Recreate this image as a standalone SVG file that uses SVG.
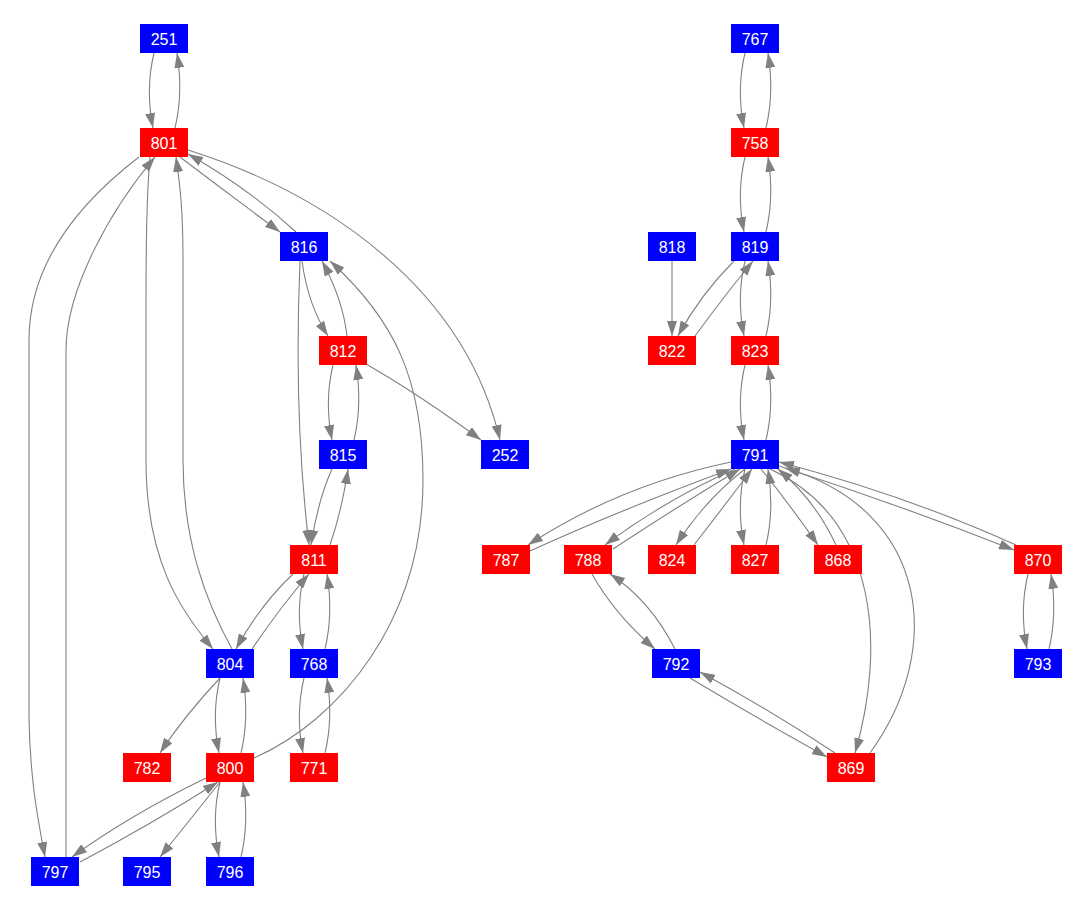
<svg xmlns="http://www.w3.org/2000/svg" width="1072" height="912" viewBox="0 0 1072 912">
<style>
.e{fill:none;stroke:#808080;stroke-width:1.1;marker-end:url(#a)}
.b{fill:#0000FF}
.r{fill:#FF0000}
text{font-family:"Liberation Sans",Arial,sans-serif;font-size:16px;fill:#FFFFFF;text-anchor:middle}
</style>
<defs>
<marker id="a" viewBox="0 0 15 10" refX="15" refY="5" markerWidth="15" markerHeight="10" markerUnits="userSpaceOnUse" orient="auto">
<path d="M0,0 L15,5 L0,10 z" fill="#808080"/>
</marker>
</defs>
<rect width="1072" height="912" fill="#FFFFFF"/>
<g id="edges">
<path class="e" d="M154,53 C148,78 148,103 153,128"/>
<path class="e" d="M175,128 C181,103 181,78 177,53"/>
<path class="e" d="M745,53 C739,78 739,103 744,128"/>
<path class="e" d="M766,128 C772,103 772,78 768,53"/>
<path class="e" d="M745,157 C739,182 739,207 744,232"/>
<path class="e" d="M766,232 C772,207 772,182 768,157"/>
<path class="e" d="M745,261 C739,286 739,311 744,336"/>
<path class="e" d="M766,336 C772,311 772,286 768,261"/>
<path class="e" d="M745,365 C739,390 739,415 744,440"/>
<path class="e" d="M766,440 C772,415 772,390 768,365"/>
<path class="e" d="M333,365 C327,390 327,415 332,440"/>
<path class="e" d="M354,440 C360,415 360,390 356,365"/>
<path class="e" d="M304,574 C298,599 298,624 303,649"/>
<path class="e" d="M325,649 C331,624 331,599 327,574"/>
<path class="e" d="M304,678 C298,703 298,728 303,753"/>
<path class="e" d="M325,753 C331,728 331,703 327,678"/>
<path class="e" d="M220,678 C214,703 214,728 219,753"/>
<path class="e" d="M241,753 C247,728 247,703 243,678"/>
<path class="e" d="M220,782 C214,807 214,832 219,857"/>
<path class="e" d="M241,857 C247,832 247,807 243,782"/>
<path class="e" d="M1028,574 C1022,599 1022,624 1027,649"/>
<path class="e" d="M1049,649 C1055,624 1055,599 1051,574"/>
<path class="e" d="M745,469 C739,494 739,520 744,545"/>
<path class="e" d="M766,545 C772,520 772,494 768,469"/>
<path class="e" d="M180,157 Q230,195 280,232"/>
<path class="e" d="M296,232 Q248,188 188,154"/>
<path class="e" d="M188,150 C330,195 465,290 500,440"/>
<path class="e" d="M302,261 Q308,305 328,336"/>
<path class="e" d="M347,336 Q343,300 322,261"/>
<path class="e" d="M254,758 C340,720 423,620 423,480 C423,380 395,320 330,261"/>
<path class="e" d="M300,261 C295,380 300,470 309,545"/>
<path class="e" d="M332,469 Q318,500 311,545"/>
<path class="e" d="M330,545 Q342,510 348,469"/>
<path class="e" d="M366,364 Q420,395 481,440"/>
<path class="e" d="M139,157 C70,210 29,270 29,340 L29,717 C30,780 38,820 45,857"/>
<path class="e" d="M66,857 L66,350 C66,290 110,210 155,157"/>
<path class="e" d="M150,157 C146,200 146,250 146,300 L146,460 C146,560 180,610 213,649"/>
<path class="e" d="M232,649 C205,600 183,540 183,460 L183,260 C183,210 180,185 176,157"/>
<path class="e" d="M293,574 Q260,605 236,649"/>
<path class="e" d="M252,649 Q282,605 309,574"/>
<path class="e" d="M220,678 Q185,715 160,753"/>
<path class="e" d="M206,778 Q130,815 72,857"/>
<path class="e" d="M80,862 Q150,825 218,782"/>
<path class="e" d="M220,782 Q190,820 160,857"/>
<path class="e" d="M672,261 L672,336"/>
<path class="e" d="M734,261 Q700,295 678,336"/>
<path class="e" d="M695,336 Q725,295 753,261"/>
<path class="e" d="M731,462 Q620,485 528,545"/>
<path class="e" d="M530,551 Q620,510 731,469"/>
<path class="e" d="M735,469 Q665,500 605,545"/>
<path class="e" d="M613,549 Q680,505 740,469"/>
<path class="e" d="M745,469 Q705,500 676,545"/>
<path class="e" d="M694,545 Q725,505 752,469"/>
<path class="e" d="M761,469 Q790,505 818,545"/>
<path class="e" d="M836,545 Q815,500 778,469"/>
<path class="e" d="M779,466 Q900,505 1014,550"/>
<path class="e" d="M1016,545 Q905,495 779,462"/>
<path class="e" d="M770,469 C880,520 885,650 855,753"/>
<path class="e" d="M870,753 C945,650 930,510 785,468"/>
<path class="e" d="M592,574 Q615,615 655,649"/>
<path class="e" d="M675,649 Q650,600 610,574"/>
<path class="e" d="M690,678 Q760,720 827,757"/>
<path class="e" d="M835,753 Q770,710 700,672"/>
</g>
<g id="n251"><rect class="b" x="140" y="24" width="48" height="29"/><text x="164" y="44.5">251</text></g>
<g id="n801"><rect class="r" x="140" y="128" width="48" height="29"/><text x="164" y="148.5">801</text></g>
<g id="n816"><rect class="b" x="280" y="232" width="48" height="29"/><text x="304" y="252.5">816</text></g>
<g id="n812"><rect class="r" x="319" y="336" width="48" height="29"/><text x="343" y="356.5">812</text></g>
<g id="n815"><rect class="b" x="319" y="440" width="48" height="29"/><text x="343" y="460.5">815</text></g>
<g id="n252"><rect class="b" x="481" y="440" width="48" height="29"/><text x="505" y="460.5">252</text></g>
<g id="n811"><rect class="r" x="290" y="545" width="48" height="29"/><text x="314" y="565.5">811</text></g>
<g id="n804"><rect class="b" x="206" y="649" width="48" height="29"/><text x="230" y="669.5">804</text></g>
<g id="n768"><rect class="b" x="290" y="649" width="48" height="29"/><text x="314" y="669.5">768</text></g>
<g id="n782"><rect class="r" x="123" y="753" width="48" height="29"/><text x="147" y="773.5">782</text></g>
<g id="n800"><rect class="r" x="206" y="753" width="48" height="29"/><text x="230" y="773.5">800</text></g>
<g id="n771"><rect class="r" x="290" y="753" width="48" height="29"/><text x="314" y="773.5">771</text></g>
<g id="n797"><rect class="b" x="31" y="857" width="48" height="29"/><text x="55" y="877.5">797</text></g>
<g id="n795"><rect class="b" x="123" y="857" width="48" height="29"/><text x="147" y="877.5">795</text></g>
<g id="n796"><rect class="b" x="206" y="857" width="48" height="29"/><text x="230" y="877.5">796</text></g>
<g id="n767"><rect class="b" x="731" y="24" width="48" height="29"/><text x="755" y="44.5">767</text></g>
<g id="n758"><rect class="r" x="731" y="128" width="48" height="29"/><text x="755" y="148.5">758</text></g>
<g id="n818"><rect class="b" x="648" y="232" width="48" height="29"/><text x="672" y="252.5">818</text></g>
<g id="n819"><rect class="b" x="731" y="232" width="48" height="29"/><text x="755" y="252.5">819</text></g>
<g id="n822"><rect class="r" x="648" y="336" width="48" height="29"/><text x="672" y="356.5">822</text></g>
<g id="n823"><rect class="r" x="731" y="336" width="48" height="29"/><text x="755" y="356.5">823</text></g>
<g id="n791"><rect class="b" x="731" y="440" width="48" height="29"/><text x="755" y="460.5">791</text></g>
<g id="n787"><rect class="r" x="482" y="545" width="48" height="29"/><text x="506" y="565.5">787</text></g>
<g id="n788"><rect class="r" x="564" y="545" width="48" height="29"/><text x="588" y="565.5">788</text></g>
<g id="n824"><rect class="r" x="648" y="545" width="48" height="29"/><text x="672" y="565.5">824</text></g>
<g id="n827"><rect class="r" x="731" y="545" width="48" height="29"/><text x="755" y="565.5">827</text></g>
<g id="n868"><rect class="r" x="814" y="545" width="48" height="29"/><text x="838" y="565.5">868</text></g>
<g id="n870"><rect class="r" x="1014" y="545" width="48" height="29"/><text x="1038" y="565.5">870</text></g>
<g id="n792"><rect class="b" x="652" y="649" width="48" height="29"/><text x="676" y="669.5">792</text></g>
<g id="n793"><rect class="b" x="1014" y="649" width="48" height="29"/><text x="1038" y="669.5">793</text></g>
<g id="n869"><rect class="r" x="827" y="753" width="48" height="29"/><text x="851" y="773.5">869</text></g>
</svg>
